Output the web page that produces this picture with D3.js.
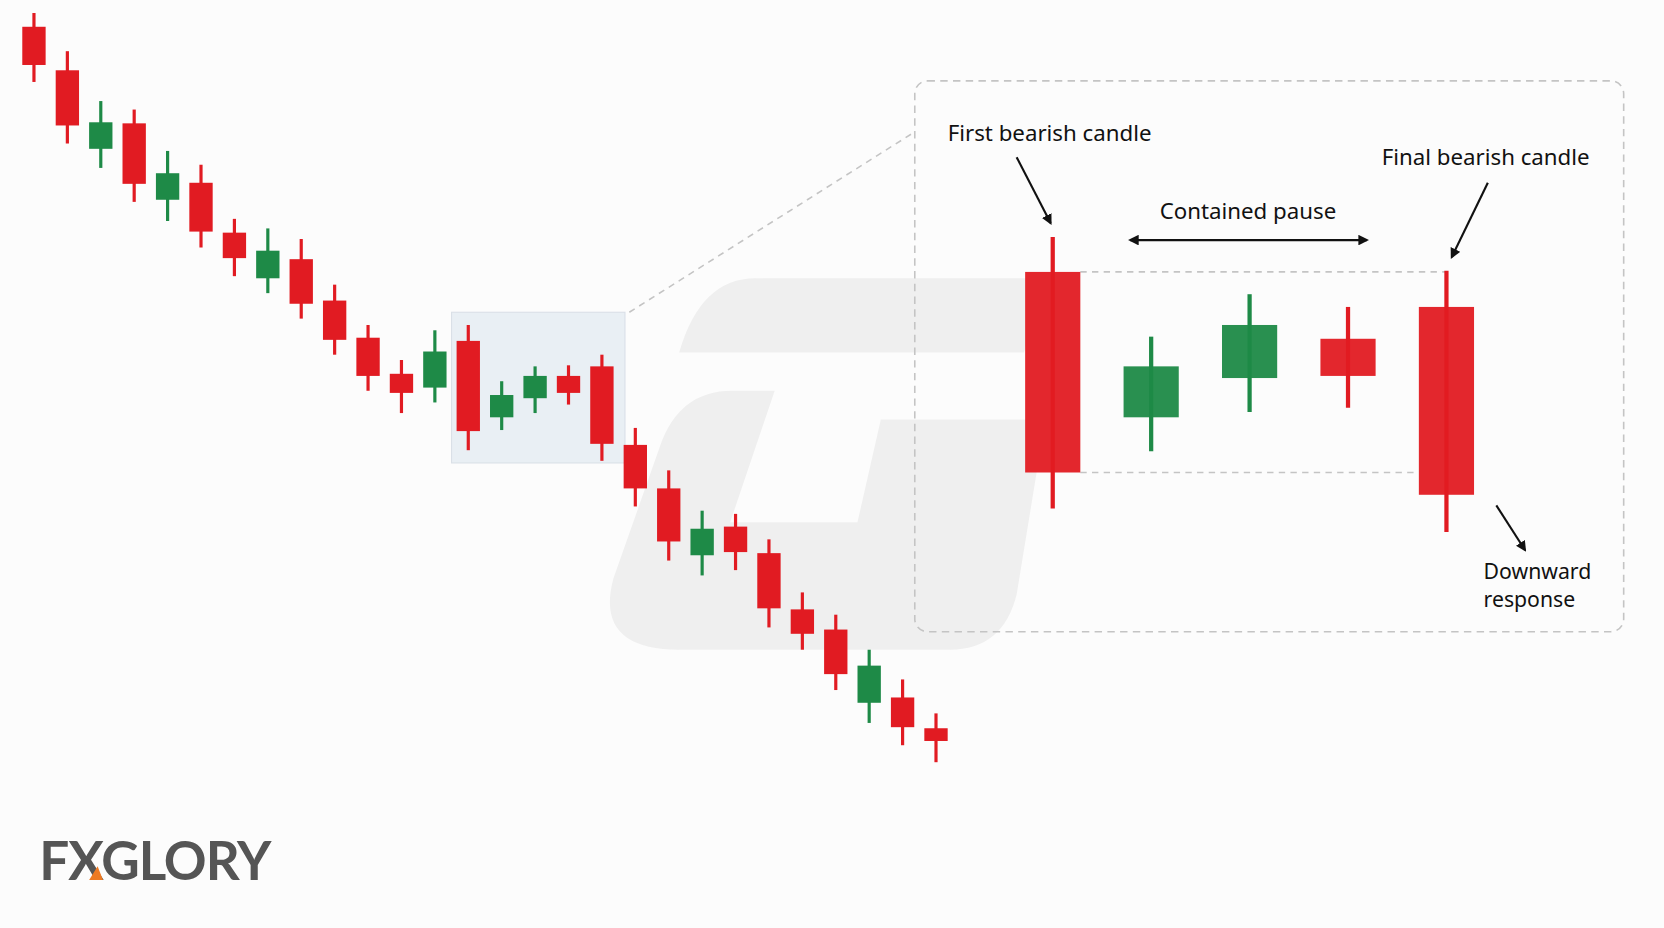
<!DOCTYPE html>
<html><head><meta charset="utf-8">
<script src="https://cdn.jsdelivr.net/npm/d3@7"></script>
<style>html,body{margin:0;background:#fcfcfc;}svg{display:block;}</style>
</head><body>
<svg id="c" width="1664" height="928" viewBox="0 0 1568 874"></svg>
<script>
// trend candles (price units, higher = up)
var trendOpen  = [735,694,620,644,572,588,541,498,516,477,442,408,395,439,367,385,406,415,341,300,237,264,239,186,167,98,103,74];
var trendClose = [699,642,645,587,597,542,517,524,474,440,406,390,429,354,388,406,390,342,300,250,262,240,187,163,125,133,75,62];
var trendHigh  = [748,712,665,657,618,605,554,545,535,492,454,421,449,454,401,415,416,426,357,317,279,276,252,202,181,148,120,88];
var trendLow   = [683,625,602,570,552,527,500,484,460,426,392,371,381,336,355,371,379,326,283,232,218,223,169,148,110,79,58,42];
// zoomed pattern candles
var zoomLabels = ["first","p1","p2","p3","final"];
var zoomOpen  = [504,367,404,441,471];
var zoomClose = [315,415,454,406,294];
var zoomHigh  = [537,443,483,471,505];
var zoomLow   = [281,335,372,376,259];

var RED = "#e11b22", GREEN = "#1e8a47";
var svg = d3.select("#c");

// watermark
var wm = svg.append("g").attr("fill", "#efefef");
wm.append("path").attr("d", "M712,262 L985,262 L965,332 L640,332 Q660,262 712,262 Z");
wm.append("path").attr("d", "M730,368 L690,368 Q640,368 622,420 L578,545 Q560,612 640,612 L895,612 Q945,612 958,560 L985,395 L830,395 L808,492 L688,492 Z");

// trend chart
var x = d3.scaleLinear().domain([0, trendOpen.length - 1]).range([32, 882]);
var y = d3.scaleLinear().domain([0, 760]).range([760, 0]);
var cw = 22;

// highlight box around indices 13..17
svg.append("rect")
  .attr("x", x(12.5)).attr("y", y(466)).attr("width", x(17.5) - x(12.5) + 6).attr("height", y(324) - y(466))
  .attr("fill", "#e8eef4").attr("stroke", "#d6dde5").attr("stroke-width", 1).attr("opacity", 0.9);

var tc = svg.append("g").selectAll("g").data(trendOpen).join("g");
tc.append("line")
  .attr("x1", function (d, i) { return x(i); }).attr("x2", function (d, i) { return x(i); })
  .attr("y1", function (d, i) { return y(trendHigh[i]); }).attr("y2", function (d, i) { return y(trendLow[i]); })
  .attr("stroke", function (d, i) { return trendClose[i] > d ? GREEN : RED; }).attr("stroke-width", 3);
tc.append("rect")
  .attr("x", function (d, i) { return x(i) - cw / 2; }).attr("width", cw)
  .attr("y", function (d, i) { return y(Math.max(d, trendClose[i])); })
  .attr("height", function (d, i) { return Math.abs(y(d) - y(trendClose[i])); })
  .attr("fill", function (d, i) { return trendClose[i] > d ? GREEN : RED; });

// zoom panel
svg.append("line").attr("x1", 593).attr("y1", 294).attr("x2", 862).attr("y2", 124)
  .attr("stroke", "#c4c4c4").attr("stroke-width", 1.5).attr("stroke-dasharray", "6,5");
svg.append("rect").attr("x", 862).attr("y", 76).attr("width", 668).attr("height", 519).attr("rx", 12)
  .attr("fill", "none").attr("stroke", "#c4c4c4").attr("stroke-width", 1.5).attr("stroke-dasharray", "7,5");

var zx = d3.scalePoint().domain(zoomLabels).range([992, 1363]);
var zy = d3.scaleLinear().domain([0, 760]).range([760, 0]);
var zw = 52;

svg.append("line").attr("x1", zx("first") + zw / 2).attr("x2", zx("final")).attr("y1", zy(zoomOpen[0])).attr("y2", zy(zoomOpen[0]))
  .attr("stroke", "#c4c4c4").attr("stroke-width", 1.5).attr("stroke-dasharray", "6,5");
svg.append("line").attr("x1", zx("first") + zw / 2).attr("x2", zx("final") - zw / 2).attr("y1", zy(zoomClose[0])).attr("y2", zy(zoomClose[0]))
  .attr("stroke", "#c4c4c4").attr("stroke-width", 1.5).attr("stroke-dasharray", "6,5");

var zc = svg.append("g").selectAll("g").data(zoomLabels).join("g");
zc.append("line")
  .attr("x1", function (d) { return zx(d); }).attr("x2", function (d) { return zx(d); })
  .attr("y1", function (d, i) { return zy(zoomHigh[i]); }).attr("y2", function (d, i) { return zy(zoomLow[i]); })
  .attr("stroke", function (d, i) { return zoomClose[i] > zoomOpen[i] ? GREEN : RED; }).attr("stroke-width", 4);
zc.append("rect")
  .attr("x", function (d) { return zx(d) - zw / 2; }).attr("width", zw)
  .attr("y", function (d, i) { return zy(Math.max(zoomOpen[i], zoomClose[i])); })
  .attr("height", function (d, i) { return Math.abs(zy(zoomOpen[i]) - zy(zoomClose[i])); })
  .attr("fill", function (d, i) { return zoomClose[i] > zoomOpen[i] ? GREEN : RED; })
  .attr("opacity", 0.95);

// annotations
var defs = svg.append("defs");
defs.append("marker").attr("id", "ah").attr("viewBox", "0 0 10 10").attr("refX", 8).attr("refY", 5)
  .attr("markerWidth", 5).attr("markerHeight", 5).attr("orient", "auto-start-reverse")
  .append("path").attr("d", "M0,0 L10,5 L0,10 Z").attr("fill", "#111");

function arrow(x1, y1, x2, y2, both) {
  var l = svg.append("line").attr("x1", x1).attr("y1", y1).attr("x2", x2).attr("y2", y2)
    .attr("stroke", "#111").attr("stroke-width", 2).attr("marker-end", "url(#ah)");
  if (both) l.attr("marker-start", "url(#ah)");
}
arrow(958, 148, 990, 210);
arrow(1065, 226, 1288, 226, true);
arrow(1402, 172, 1368, 242);
arrow(1410, 476, 1437, 518);

function label(t, tx, ty, anchor, fs) {
  svg.append("text").attr("x", tx).attr("y", ty).attr("text-anchor", anchor || "start")
    .attr("font-family", "Noto Sans, Open Sans, sans-serif").attr("font-size", fs || 21).attr("fill", "#111").text(t);
}
label("First bearish candle", 893, 133);
label("Contained pause", 1176, 206, "middle");
label("Final bearish candle", 1302, 155);
label("Downward", 1398, 545, "start", 20);
label("response", 1398, 572, "start", 20);

// logo
svg.append("text").attr("x", 37).attr("y", 829).attr("font-family", "Lato, sans-serif")
  .attr("font-weight", "bold").attr("font-size", 50).attr("fill", "#555").attr("letter-spacing", -1).text("FXGLORY");
svg.append("path").attr("d", "M84,829 L92,816 L97,829 Z").attr("fill", "#ee7a22");
</script>
</body></html>
